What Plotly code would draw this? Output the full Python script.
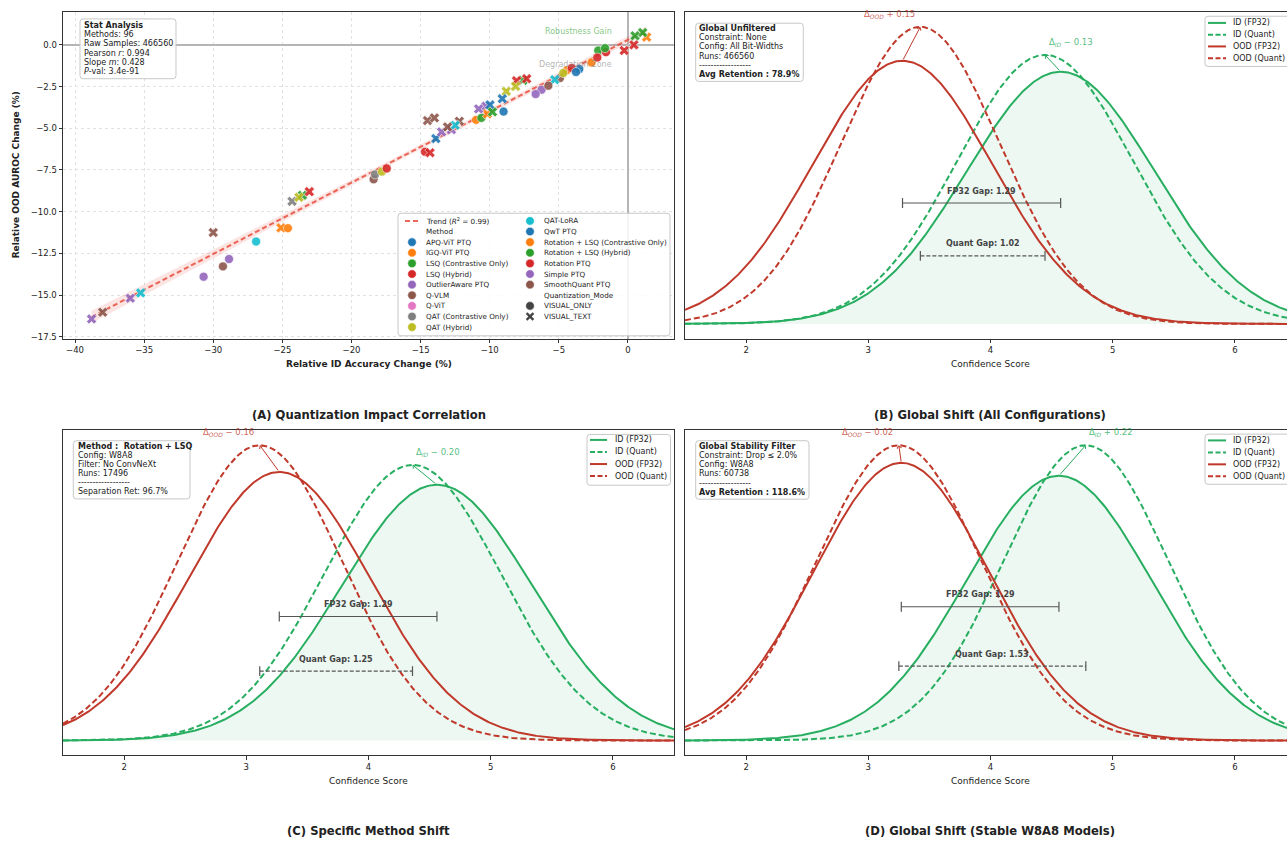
import numpy as np
import plotly.graph_objects as go

W, H = 1287, 842
FONT = "DejaVu Sans"

# ---------------- Panel A: per-configuration relative changes ----------------
acc_change = [-38.8, -38.0, -36.0, -35.25, -30.7, -30.0, -29.3, -28.86, -26.9, -25.1,
              -24.6, -24.3, -23.8, -23.55, -23.05, -18.4, -18.3, -17.8, -17.45, -14.68,
              -14.32, -14.5, -14.0, -13.9, -13.48, -13.05, -12.77, -12.5, -12.2, -10.99,
              -10.8, -10.6, -10.27, -10.17, -9.98, -9.8, -9.09, -9.0, -8.8, -8.13,
              -8.06, -7.6, -7.33, -6.68, -6.25, -5.76, -5.3, -4.92, -4.68, -4.43,
              -4.07, -3.76, -3.52, -2.63, -2.22, -2.15, -1.66, -1.59, -0.27, 0.43,
              0.51, 1.06, 1.35]
auroc_change = [-16.43, -16.03, -15.19, -14.87, -13.90, -11.25, -13.28, -12.84, -11.79, -10.97,
                -10.99, -9.38, -9.14, -9.02, -8.80, -8.06, -7.77, -7.60, -7.41, -6.41,
                -6.47, -4.54, -4.38, -5.62, -5.22, -4.92, -5.08, -4.82, -4.58, -4.50,
                -3.84, -4.38, -3.68, -4.14, -3.60, -4.02, -3.23, -4.00, -2.79, -2.49,
                -2.15, -2.13, -2.03, -2.95, -2.69, -2.45, -2.09, -1.99, -1.69, -1.53,
                -1.39, -1.63, -1.45, -1.06, -0.76, -0.34, -0.20, -0.44, -0.34, 0.00,
                0.54, 0.74, 0.46]
method = ["Simple PTQ", "Q-VLM", "OutlierAware PTQ", "QAT-LoRA", "Simple PTQ",
          "SmoothQuant PTQ", "SmoothQuant PTQ", "OutlierAware PTQ", "QAT-LoRA", "IGQ-ViT PTQ",
          "Rotation + LSQ (Contrastive Only)", "QAT (Contrastive Only)", "QAT (Hybrid)",
          "LSQ (Contrastive Only)", "LSQ (Hybrid)", "Q-VLM", "QAT (Contrastive Only)",
          "QAT (Hybrid)", "Rotation PTQ", "LSQ (Hybrid)",
          "Rotation PTQ", "Q-VLM", "SmoothQuant PTQ", "APQ-ViT PTQ", "Simple PTQ",
          "SmoothQuant PTQ", "OutlierAware PTQ", "QAT-LoRA", "Q-VLM", "IGQ-ViT PTQ",
          "Simple PTQ", "LSQ (Contrastive Only)", "OutlierAware PTQ",
          "Rotation + LSQ (Contrastive Only)", "QwT PTQ", "Rotation + LSQ (Hybrid)", "QwT PTQ",
          "APQ-ViT PTQ", "QAT (Hybrid)", "QAT (Hybrid)",
          "LSQ (Hybrid)", "LSQ (Contrastive Only)", "Rotation PTQ", "Simple PTQ",
          "OutlierAware PTQ", "SmoothQuant PTQ", "QAT-LoRA", "Q-VLM", "QAT (Hybrid)", "IGQ-ViT PTQ",
          "LSQ (Hybrid)", "QwT PTQ", "APQ-ViT PTQ", "Rotation + LSQ (Contrastive Only)",
          "Rotation PTQ", "LSQ (Contrastive Only)", "Rotation + LSQ (Hybrid)", "LSQ (Hybrid)",
          "Rotation PTQ", "LSQ (Hybrid)",
          "Rotation + LSQ (Hybrid)", "LSQ (Contrastive Only)", "IGQ-ViT PTQ"]
VO, VT = "VISUAL_ONLY", "VISUAL_TEXT"
mode = [VT, VT, VT, VT, VO, VT, VO, VO, VO, VT,
        VO, VT, VT, VT, VT, VO, VO, VO, VO, VO,
        VT, VT, VT, VT, VT, VT, VT, VT, VT, VO,
        VT, VO, VT, VT, VT, VT, VT, VO, VT, VT,
        VT, VT, VT, VO, VO, VO, VT, VO, VO, VO,
        VO, VO, VO, VO, VO, VO, VO, VO, VT, VT,
        VT, VT, VT]

method_names = ["APQ-ViT PTQ", "IGQ-ViT PTQ", "LSQ (Contrastive Only)", "LSQ (Hybrid)",
                "OutlierAware PTQ", "Q-VLM", "Q-ViT", "QAT (Contrastive Only)", "QAT (Hybrid)",
                "QAT-LoRA", "QwT PTQ", "Rotation + LSQ (Contrastive Only)",
                "Rotation + LSQ (Hybrid)", "Rotation PTQ", "Simple PTQ", "SmoothQuant PTQ"]
mode_names = [VO, VT]

# Summary statistics shown in the stat box
n_methods = 96
raw_samples = 466560
pearson_r = 0.994
slope = 0.428
intercept = 0.30
p_value = "3.4e-91"
r_squared = 0.99

# ---------------- Panels B-D: confidence score distributions ----------------
dist_labels = ["ID (FP32)", "ID (Quant)", "OOD (FP32)", "OOD (Quant)"]
means_b = [4.574, 4.446, 3.280, 3.426]
stds_b = [0.767, 0.719, 0.735, 0.651]
means_c = [4.56, 4.36, 3.27, 3.11]
stds_c = [0.777, 0.721, 0.740, 0.673]
means_d = [4.56, 4.78, 3.27, 3.25]
stds_d = [0.755, 0.677, 0.720, 0.677]

info_b = [("Global Unfiltered", True), ("Constraint: None", False),
          ("Config: All Bit-Widths", False), ("Runs: 466560", False),
          ("------------------", False), ("Avg Retention : 78.9%", True)]
info_c = [("Method :  Rotation + LSQ", True), ("Config: W8A8", False),
          ("Filter: No ConvNeXt", False), ("Runs: 17496", False),
          ("------------------", False), ("Separation Ret: 96.7%", False)]
info_d = [("Global Stability Filter", True), ("Constraint: Drop \u2264 2.0%", False),
          ("Config: W8A8", False), ("Runs: 60738", False),
          ("------------------", False), ("Avg Retention : 118.6%", True)]

# ---------------- styling ----------------
TAB10 = ["#1f77b4", "#ff7f0e", "#2ca02c", "#d62728", "#9467bd",
         "#8c564b", "#e377c2", "#7f7f7f", "#bcbd22", "#17becf"]
method_color = {m: TAB10[i % 10] for i, m in enumerate(method_names)}
GREEN = "#27ae60"
RED = "#c0392b"
GREEN_T = "rgba(39,174,96,0.8)"
RED_T = "rgba(192,57,43,0.8)"
TREND = "rgba(231,76,60,0.85)"
CURVE_DASH = "6px,3px"


def px(x):
    return x / W


def py(y):
    return 1 - y / H


shapes = []
annots = []


def rrect(x0, y0, x1, y1, r=3, fill="rgba(255,255,255,0.85)", line="#c8c8c8", lw=1):
    def P(x, y):
        return f"{px(x):.5f},{py(y):.5f}"
    path = (f"M {P(x0 + r, y0)} L {P(x1 - r, y0)} Q {P(x1, y0)} {P(x1, y0 + r)} "
            f"L {P(x1, y1 - r)} Q {P(x1, y1)} {P(x1 - r, y1)} L {P(x0 + r, y1)} "
            f"Q {P(x0, y1)} {P(x0, y1 - r)} L {P(x0, y0 + r)} Q {P(x0, y0)} {P(x0 + r, y0)} Z")
    shapes.append(dict(type="path", xref="paper", yref="paper", path=path,
                       fillcolor=fill, line=dict(color=line, width=lw), layer="above"))


def txt(x, y, s, size=8, color="#222222", bold=False, xanchor="left",
        yanchor="middle", angle=0):
    if bold:
        s = f"<b>{s}</b>"
    annots.append(dict(xref="paper", yref="paper", x=px(x), y=py(y), text=s,
                       showarrow=False, xanchor=xanchor, yanchor=yanchor,
                       textangle=angle, borderpad=0,
                       font=dict(size=size, color=color, family=FONT)))


def glyph_line(x0, x1, y, color, dash, width=2):
    shapes.append(dict(type="line", xref="paper", yref="paper", x0=px(x0), x1=px(x1),
                       y0=py(y), y1=py(y), line=dict(color=color, width=width, dash=dash),
                       layer="above"))


def glyph_circle(cx, cy, r, color):
    shapes.append(dict(type="circle", xref="paper", yref="paper",
                       x0=px(cx - r), x1=px(cx + r), y0=py(cy + r), y1=py(cy - r),
                       fillcolor=color, line=dict(color="white", width=0.6), layer="above"))


def glyph_x(cx, cy, r, color, width=2.3):
    for sgn in (1, -1):
        shapes.append(dict(type="line", xref="paper", yref="paper",
                           x0=px(cx - r), x1=px(cx + r), y0=py(cy - sgn * r), y1=py(cy + sgn * r),
                           line=dict(color=color, width=width), layer="above"))


fig = go.Figure()

# ---------------- Panel A ----------------
acc = np.array(acc_change)
auc = np.array(auroc_change)
x_fit = np.linspace(acc.min(), acc.max(), 100)
y_fit = slope * x_fit + intercept
resid = auc - (slope * acc + intercept)
s_res = np.sqrt(np.sum(resid ** 2) / (len(acc) - 2))
sxx = np.sum((acc - acc.mean()) ** 2)
half = 1.96 * s_res * np.sqrt(1 / len(acc) + (x_fit - acc.mean()) ** 2 / sxx)

# regression confidence band and trend line
fig.add_trace(go.Scatter(x=np.concatenate([x_fit, x_fit[::-1]]),
                         y=np.concatenate([y_fit + half, (y_fit - half)[::-1]]),
                         fill="toself", fillcolor="rgba(231,76,60,0.15)", line=dict(width=0),
                         mode="lines", hoverinfo="skip", xaxis="x", yaxis="y"))
fig.add_trace(go.Scatter(x=x_fit, y=y_fit, mode="lines",
                         line=dict(color=TREND, width=2, dash="5px,3px"),
                         hoverinfo="skip", xaxis="x", yaxis="y"))

# one scatter trace per method / mode combination
for m in method_names:
    for md in mode_names:
        idx = [i for i in range(len(method)) if method[i] == m and mode[i] == md]
        if not idx:
            continue
        fig.add_trace(go.Scatter(
            x=[acc_change[i] for i in idx], y=[auroc_change[i] for i in idx],
            mode="markers", xaxis="x", yaxis="y", name=f"{m} / {md}",
            marker=dict(size=9, symbol="circle" if md == VO else "x",
                        color=method_color[m], opacity=0.9,
                        line=dict(color="white", width=0.6))))

annots.append(dict(xref="x", yref="y", x=-1.0, y=0.8, text="Robustness Gain", showarrow=False,
                   xanchor="right", yanchor="middle",
                   font=dict(size=8, color="rgba(44,160,44,0.6)", family=FONT)))
annots.append(dict(xref="x", yref="y", x=-1.0, y=-1.2, text="Degradation Zone", showarrow=False,
                   xanchor="right", yanchor="middle",
                   font=dict(size=8, color="rgba(128,128,128,0.6)", family=FONT)))

# stat box
rrect(80, 19, 176, 79)
stat_lines = [("Stat Analysis", True), (f"Methods: {n_methods}", False),
              (f"Raw Samples: {raw_samples}", False), (f"Pearson <i>r</i>: {pearson_r}", False),
              (f"Slope <i>m</i>: {slope}", False), (f"<i>P</i>-val: {p_value}", False)]
for k, (s, b) in enumerate(stat_lines):
    txt(82.7, 25.7 + 9.2 * k, s, size=8, bold=b)

# legend for panel A (two columns)
rrect(398, 214, 670, 337)
col1 = [("trend", f"Trend (<i>R</i><sup>2</sup> = {r_squared})"), ("head", "Method")] + \
       [("m", m) for m in method_names[:9]]
col2 = [("m", m) for m in method_names[9:]] + [("head", "Quantization_Mode"),
                                               ("vo", VO), ("vt", VT)]
for col, (gx, tx) in ((col1, (412, 425)), (col2, (530, 543))):
    for k, (kind, label) in enumerate(col):
        yy = 221.7 + 10.66 * k
        if kind == "trend":
            glyph_line(gx - 7, gx + 7, yy, TREND, "5px,3px", width=2)
        elif kind == "m":
            glyph_circle(gx, yy, 4.3, method_color[label])
        elif kind == "vo":
            glyph_circle(gx, yy, 4.3, "#444444")
        elif kind == "vt":
            glyph_x(gx, yy, 3.4, "#444444")
        txt(tx, yy, label, size=7.2)

# ---------------- Panels B-D ----------------
xg = np.linspace(1.5, 6.5, 500)


def pdf(m, s):
    return np.exp(-0.5 * ((xg - m) / s) ** 2) / (s * np.sqrt(2 * np.pi))


def peak(s):
    return 1 / (s * np.sqrt(2 * np.pi))


def dist_panel(ax, means, stds, fp_frac, q_frac):
    xr, yr = "x" + ax, "y" + ax
    curves = [pdf(m, s) for m, s in zip(means, stds)]
    styles = [(GREEN, "solid"), (GREEN, CURVE_DASH), (RED, "solid"), (RED, CURVE_DASH)]
    for k, (c, (col, dash)) in enumerate(zip(curves, styles)):
        fig.add_trace(go.Scatter(
            x=xg, y=c, mode="lines", xaxis=xr, yaxis=yr, name=dist_labels[k],
            line=dict(color=col, width=2, dash=dash),
            fill="tozeroy" if k == 0 else None,
            fillcolor="rgba(39,174,96,0.09)" if k == 0 else None, hoverinfo="skip"))
    top = max(c.max() for c in curves)

    # shift arrows from FP32 peak to quantized peak
    for fp, q, col, tcol, lab, off in ((2, 3, RED, RED_T, "OOD", -0.255),
                                       (0, 1, GREEN, GREEN_T, "ID", 0.21)):
        d = means[q] - means[fp]
        annots.append(dict(xref=xr, yref=yr, axref=xr, ayref=yr,
                           x=means[q], y=peak(stds[q]), ax=means[fp], ay=peak(stds[fp]),
                           text="", showarrow=True, arrowhead=4, arrowsize=0.9,
                           arrowwidth=1, arrowcolor=col, standoff=0, startstandoff=0))
        sign = "+" if d >= 0 else "\u2212"
        annots.append(dict(xref=xr, yref=yr, x=means[q] + off, y=peak(stds[q]), yshift=12.5,
                           text=f"\u0394<sub><i>{lab}</i></sub> {sign} {abs(d):.2f}",
                           showarrow=False, xanchor="center", yanchor="middle",
                           font=dict(size=8.5, color=tcol, family=FONT)))

    # separation gaps
    for a, b, frac, dash, lab in ((2, 0, fp_frac, "solid", "FP32 Gap"),
                                  (3, 1, q_frac, "4px,2px", "Quant Gap")):
        lvl = frac * top
        fig.add_trace(go.Scatter(
            x=[means[a], means[b]], y=[lvl, lvl], mode="lines+markers", xaxis=xr, yaxis=yr,
            line=dict(color="#555555", width=1.2, dash=dash), hoverinfo="skip",
            marker=dict(symbol="line-ns", size=7, line=dict(color="#555555", width=1.2))))
        annots.append(dict(xref=xr, yref=yr, x=(means[a] + means[b]) / 2, y=lvl, yshift=12,
                           text=f"<b>{lab}: {means[b] - means[a]:.2f}</b>", showarrow=False,
                           xanchor="center", yanchor="middle",
                           font=dict(size=8, color="#444444", family=FONT)))
    return top


top_b = dist_panel("2", means_b, stds_b, 0.407, 0.229)
top_c = dist_panel("3", means_c, stds_c, 0.42, 0.235)
top_d = dist_panel("4", means_d, stds_d, 0.453, 0.252)


def info_box(box, x0, y0, lines):
    rrect(*box)
    for k, (s, b) in enumerate(lines):
        txt(x0, y0 + 9.2 * k, s, size=8, bold=b)


info_box((695.7, 23.3, 803.3, 81.7), 697.7, 28.7, info_b)
info_box((73.3, 442.3, 190, 500.7), 76.7, 447.7, info_c)
info_box((695.7, 442.3, 809, 501), 697.7, 448, info_d)


def dist_legend(box, sx0, sx1, tx, y0, dy):
    rrect(*box)
    styles = [(GREEN, "solid"), (GREEN, "5px,2.5px"), (RED, "solid"), (RED, "5px,2.5px")]
    for k, (col, dash) in enumerate(styles):
        yy = y0 + dy * k
        glyph_line(sx0, sx1, yy, col, dash, width=2)
        txt(tx, yy, dist_labels[k], size=8)


dist_legend((1205, 16.3, 1310, 66.7), 1208, 1226, 1232, 23, 11.8)
dist_legend((587, 436, 670.5, 487), 590, 607, 613.5, 441.5, 12.1)
dist_legend((1205, 435.7, 1310, 486), 1208, 1226, 1232, 442, 12)

# ---------------- titles ----------------
txt(368.5, 416, "(A) Quantization Impact Correlation", size=11.6, bold=True, xanchor="center")
txt(990, 416, "(B) Global Shift (All Configurations)", size=11.6, bold=True, xanchor="center")
txt(368.5, 834, "(C) Specific Method Shift", size=11.6, bold=True, xanchor="center")
txt(990, 834, "(D) Global Shift (Stable W8A8 Models)", size=11.6, bold=True, xanchor="center")
txt(368.5, 365, "Relative ID Accuracy Change (%)", size=9, bold=True, xanchor="center")
txt(16, 176, "Relative OOD AUROC Change (%)", size=9, bold=True, xanchor="center", angle=-90)
for cx, cy in ((990, 365), (368.5, 784), (990, 784)):
    txt(cx, cy, "Confidence Score", size=9, xanchor="center")

# ---------------- axes ----------------
tickfont = dict(size=8.5, color="#222222", family=FONT)
spine = dict(showline=True, linecolor="#333333", linewidth=1)
xa_dist = dict(range=[1.5, 6.5], tickvals=[2, 3, 4, 5, 6], ticks="outside", ticklen=3.5,
               tickcolor="#333333", tickfont=tickfont, showgrid=False, zeroline=False,
               mirror=True, **spine)
ya_dist = dict(showticklabels=False, ticks="", showgrid=False, zeroline=False, **spine)
right_range = 1.5 + (W - 685) / (611 / 5.0)
grid_a = dict(showgrid=True, gridcolor="#e2e2e2", griddash="dot", gridwidth=1,
              zeroline=True, zerolinecolor="#b5b5b5", zerolinewidth=1.5)

fig.update_layout(
    width=W, height=H, margin=dict(l=0, r=0, t=0, b=0), autosize=False,
    paper_bgcolor="white", plot_bgcolor="white", showlegend=False,
    font=dict(family=FONT),
    xaxis=dict(domain=[px(63), px(674)], range=[-40.87, 3.33], tickvals=list(range(-40, 1, 5)),
               ticks="outside", ticklen=3.5, tickcolor="#333333", tickfont=tickfont,
               mirror=True, anchor="y", **grid_a, **spine),
    yaxis=dict(domain=[py(340), py(12)], range=[-17.62, 1.97],
               tickvals=[-17.5, -15, -12.5, -10, -7.5, -5, -2.5, 0], tickformat=".1f",
               ticks="outside", ticklen=3.5, tickcolor="#333333", tickfont=tickfont,
               mirror=True, anchor="x", **grid_a, **spine),
    xaxis2=dict(domain=[px(685), 1.0], anchor="y2", **{**xa_dist, "range": [1.5, right_range]}),
    yaxis2=dict(domain=[py(340), py(12)], anchor="x2",
                range=[-0.05 * top_b, 1.05 * top_b], **ya_dist),
    xaxis3=dict(domain=[px(63), px(674)], anchor="y3", **xa_dist),
    yaxis3=dict(domain=[py(758), py(432)], anchor="x3",
                range=[-0.05 * top_c, 1.05 * top_c], mirror=True, **ya_dist),
    xaxis4=dict(domain=[px(685), 1.0], anchor="y4", **{**xa_dist, "range": [1.5, right_range]}),
    yaxis4=dict(domain=[py(758), py(432)], anchor="x4",
                range=[-0.05 * top_d, 1.05 * top_d], **ya_dist),
    shapes=shapes, annotations=annots,
)

fig.write_html("out.html")
